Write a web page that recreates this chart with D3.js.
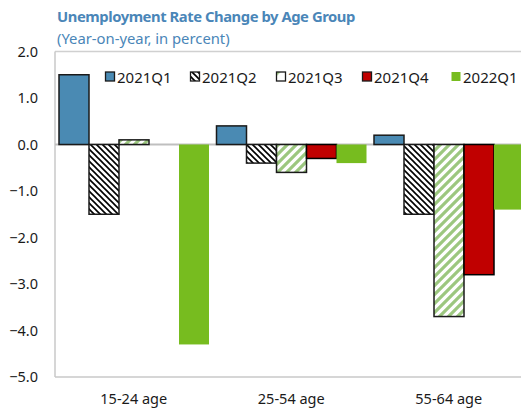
<!DOCTYPE html>
<html><head><meta charset="utf-8">
<script src="https://cdn.jsdelivr.net/npm/d3@7"></script>
<style>body{margin:0;background:#fff}svg{display:block}text{font-family:"Noto Sans","Open Sans",sans-serif}</style>
</head><body>
<svg id="c" width="521" height="412"></svg>
<script>
const categories = ["15-24 age", "25-54 age", "55-64 age"];
const seriesNames = ["2021Q1", "2021Q2", "2021Q3", "2021Q4", "2022Q1"];
const q1_2021 = [1.5, 0.4, 0.2];
const q2_2021 = [-1.5, -0.4, -1.5];
const q3_2021 = [0.1, -0.6, -3.7];
const q4_2021 = [0.0, -0.3, -2.8];
const q1_2022 = [-4.3, -0.4, -1.4];
const yTicks = [2, 1, 0, -1, -2, -3, -4, -5];

const seriesValues = [q1_2021, q2_2021, q3_2021, q4_2021, q1_2022];

const svg = d3.select("#c");
const defs = svg.append("defs");
// pattern Q2: black dotted downward diagonal
const p2 = defs.append("pattern").attr("id","p2").attr("patternUnits","userSpaceOnUse")
  .attr("width",6).attr("height",6);
p2.append("rect").attr("width",6).attr("height",6).attr("fill","#fff");
p2.append("path").attr("d","M-1,-1 L7,7 M-1,5 L1,7 M5,-1 L7,1").attr("stroke","#000").attr("stroke-width",1.6);
// pattern Q3: green upward diagonal stripes
const p3 = defs.append("pattern").attr("id","p3").attr("patternUnits","userSpaceOnUse")
  .attr("width",9).attr("height",9);
p3.append("rect").attr("width",9).attr("height",9).attr("fill","#fff");
p3.append("path").attr("d","M-2,11 L11,-2 M-2,2 L2,-2 M7,11 L11,7").attr("stroke","#9cc77f").attr("stroke-width",3.2);
// legend-only Q3 marker pattern (white with small green corner)
const p3l = defs.append("pattern").attr("id","p3l").attr("patternUnits","objectBoundingBox")
  .attr("width",1).attr("height",1);
p3l.append("rect").attr("width",9).attr("height",9).attr("fill","#fff");
p3l.append("path").attr("d","M0,4 L4,0 L0,0 Z").attr("fill","#9cc77f");

const fills = ["#4a8ab3", "url(#p2)", "url(#p3)", "#c00000", "#77bc1f"];
const legFills = ["#4a8ab3", "url(#p2)", "url(#p3l)", "#c00000", "#77bc1f"];
const strokes = ["#1a1a1a", "#1a1a1a", "#1a1a1a", "#000", "none"];

const L = 55, R = 521, T = 51.5, B = 377;
// plot area continues slightly past the right edge of the picture
const x0 = d3.scaleBand().domain(categories).range([L, L + 3 * 157.5]);
const x1 = d3.scaleBand().domain(seriesNames).range([4, 154]);
const y = d3.scaleLinear().domain([-5, 2]).range([B, T]);

// frame
svg.append("line").attr("x1",L).attr("x2",R).attr("y1",T).attr("y2",T).attr("stroke","#d0d0d0").attr("stroke-width",1.3);
svg.append("line").attr("x1",L).attr("x2",R).attr("y1",B).attr("y2",B).attr("stroke","#c8c8c8").attr("stroke-width",1.5);
svg.append("line").attr("x1",L).attr("x2",L).attr("y1",T).attr("y2",B).attr("stroke","#c8c8c8").attr("stroke-width",1.5);

// y axis labels
const yAxis = d3.axisLeft(y).tickValues(yTicks).tickFormat(d3.format(".1f")).tickSize(0).tickPadding(17);
const ga = svg.append("g").attr("transform",`translate(${L},0)`).call(yAxis);
ga.select(".domain").remove();
ga.selectAll("text").attr("font-size",14.5).attr("fill","#1a1a1a").style("font-family","'Noto Sans',sans-serif");

// x axis labels
const xAxis = d3.axisBottom(x0).tickSize(0).tickPadding(17);
const gx = svg.append("g").attr("transform",`translate(0,${B})`).call(xAxis);
gx.select(".domain").remove();
gx.selectAll("text").attr("font-size",14.5).attr("fill","#1a1a1a").style("font-family","'Noto Sans',sans-serif");

// zero line
svg.append("line").attr("x1",L).attr("x2",R).attr("y1",y(0)).attr("y2",y(0)).attr("stroke","#bfbfbf").attr("stroke-width",2);

// bars
const gs = svg.append("g");
seriesNames.forEach((s, si) => {
  categories.forEach((c, ci) => {
    const v = seriesValues[si][ci];
    if (v === 0) return;
    gs.append("rect")
      .attr("x", x0(c) + x1(s))
      .attr("y", y(Math.max(0, v)))
      .attr("width", x1.bandwidth())
      .attr("height", Math.abs(y(v) - y(0)))
      .attr("fill", fills[si])
      .attr("stroke", strokes[si])
      .attr("stroke-width", 1.5);
  });
});

// legend
const legX = [105, 190, 276, 362, 451];
const lg = svg.append("g");
seriesNames.forEach((s, i) => {
  lg.append("rect").attr("x", legX[i]+0.5).attr("y", 72).attr("width", 9).attr("height", 9)
    .attr("fill", legFills[i]).attr("stroke", i === 4 ? "none" : "#1a1a1a").attr("stroke-width", 1.3);
  lg.append("text").attr("x", legX[i] + 12).attr("y", 82.5).attr("font-size", 15).attr("fill","#1a1a1a").text(s);
});

// title
svg.append("text").attr("x",57).attr("y",22).attr("font-size",14.8).attr("font-weight","bold").attr("fill","#4a86b8")
  .attr("letter-spacing","-0.45px")
  .text("Unemployment Rate Change by Age Group");
svg.append("text").attr("x",57).attr("y",44).attr("font-size",14.8).attr("fill","#4a86b8")
  .text("(Year-on-year, in percent)");
</script>
</body></html>
